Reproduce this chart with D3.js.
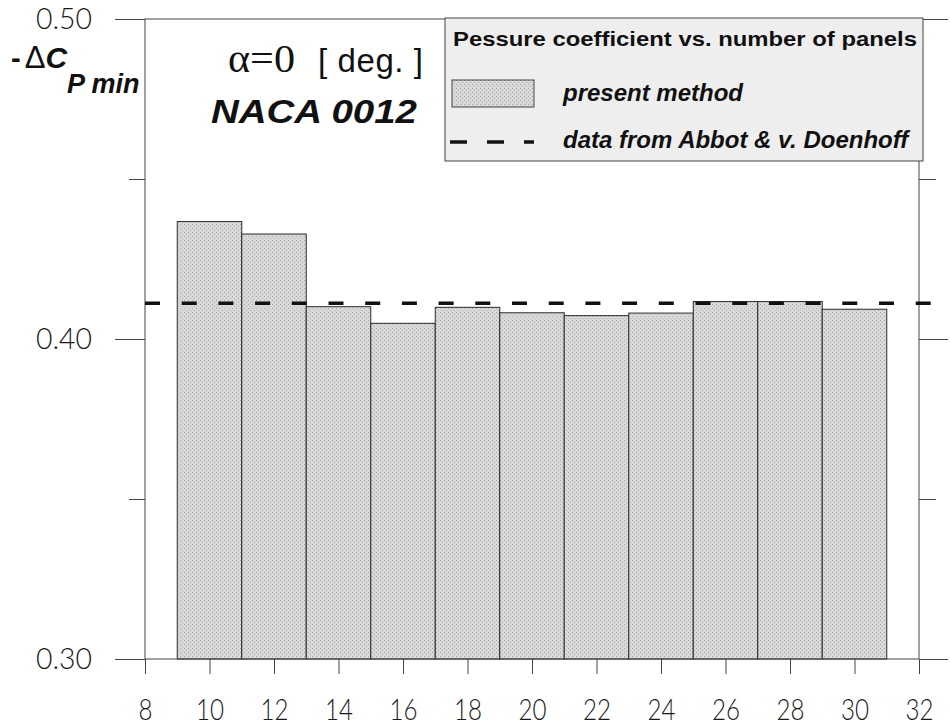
<!DOCTYPE html>
<html>
<head>
<meta charset="utf-8">
<script src="https://cdn.jsdelivr.net/npm/d3@7"></script>
<style>
  body { margin: 0; background: #fff; }
  svg { display: block; }
  .tick text { font-family: Lato, "DejaVu Sans", sans-serif; font-weight: 300; font-size: 29px; fill: #1a1a1a; }
  .tick line { stroke: #444; }
</style>
</head>
<body>
<div id="chart"></div>
<script>
// panels (bar centres) and -dCp min from the panel method
const panels = [10, 12, 14, 16, 18, 20, 22, 24, 26, 28, 30];
const cpMin = [0.4367, 0.4328, 0.4101, 0.4049, 0.4099, 0.4082, 0.4073, 0.4081, 0.4117, 0.4117, 0.4093];
// reference value (Abbot & v. Doenhoff)
const refValue = 0.4112;
const refRange = [8, 32.45];

const xTicks = [8, 10, 12, 14, 16, 18, 20, 22, 24, 26, 28, 30, 32];
const yMajor = [0.30, 0.40, 0.50];
const yMinor = [0.35, 0.45];

const width = 950, height = 726;
const plotL = 145, plotR = 919, plotT = 19, plotB = 659;

const svg = d3.select("#chart").append("svg")
    .attr("width", width)
    .attr("height", height);

// stippled grey like the printed original
const defs = svg.append("defs");
const pat = defs.append("pattern")
    .attr("id", "stipple")
    .attr("width", 4).attr("height", 4)
    .attr("patternUnits", "userSpaceOnUse");
pat.append("rect").attr("width", 4).attr("height", 4).attr("fill", "#d8d8d8");
pat.append("rect").attr("x", 0).attr("y", 0).attr("width", 1).attr("height", 1).attr("fill", "#a9a9a9");
pat.append("rect").attr("x", 2).attr("y", 2).attr("width", 1).attr("height", 1).attr("fill", "#b4b4b4");

const x = d3.scaleLinear().domain([8, 32]).range([plotL, plotR]);
const y = d3.scaleLinear().domain([0.30, 0.50]).range([plotB, plotT]);

// bars, each 2 panels wide
svg.append("g")
    .selectAll("rect")
    .data(panels)
    .enter()
    .append("rect")
    .attr("x", d => x(d - 1))
    .attr("width", d => x(d + 1) - x(d - 1))
    .attr("y", (d, i) => y(cpMin[i]))
    .attr("height", (d, i) => y(0.30) - y(cpMin[i]))
    .attr("fill", "url(#stipple)")
    .attr("stroke", "#2a2a2a")
    .attr("stroke-width", 1);

// frame
svg.append("rect")
    .attr("x", plotL).attr("y", plotT)
    .attr("width", plotR - plotL).attr("height", plotB - plotT)
    .attr("fill", "none")
    .attr("stroke", "#444")
    .attr("stroke-width", 1);

// axes
const axisL = svg.append("g").attr("transform", `translate(${plotL},0)`)
    .call(d3.axisLeft(y).tickValues(yMajor).tickSize(30).tickPadding(23).tickFormat(d3.format(".2f")));
svg.append("g").attr("transform", `translate(${plotL},0)`)
    .call(d3.axisLeft(y).tickValues(yMinor).tickSize(16).tickFormat(""));
svg.append("g").attr("transform", `translate(${plotR},0)`)
    .call(d3.axisRight(y).tickValues(yMajor).tickSize(29).tickFormat(""));
svg.append("g").attr("transform", `translate(${plotR},0)`)
    .call(d3.axisRight(y).tickValues(yMinor).tickSize(17).tickFormat(""));
const axisB = svg.append("g").attr("transform", `translate(0,${plotB})`)
    .call(d3.axisBottom(x).tickValues(xTicks).tickSize(15).tickPadding(25).tickFormat(d3.format("d")));

svg.selectAll(".domain").remove();
// narrow, wide-spaced digits of the original
axisL.selectAll("text")
    .attr("textLength", 56)
    .attr("lengthAdjust", "spacingAndGlyphs");
axisB.selectAll("text")
    .attr("textLength", d => String(d).length * 14)
    .attr("lengthAdjust", "spacingAndGlyphs");

// reference dashed line
svg.append("line")
    .attr("x1", x(refRange[0])).attr("x2", x(refRange[1]))
    .attr("y1", y(refValue)).attr("y2", y(refValue))
    .attr("stroke", "#111")
    .attr("stroke-width", 3.5)
    .attr("stroke-dasharray", "15,21.7");

// y label
const yl = svg.append("text")
    .attr("x", 11).attr("y", 68)
    .attr("font-family", "Liberation Sans, Arial, sans-serif")
    .attr("fill", "#111");
yl.append("tspan").attr("font-size", 29).attr("font-weight", "bold").text("-");
yl.append("tspan").attr("font-size", 31).attr("dx", 4).text("\u0394");
yl.append("tspan").attr("font-size", 30).attr("font-weight", "bold").attr("font-style", "italic").text("C");
yl.append("tspan").attr("font-size", 27).attr("font-weight", "bold").attr("font-style", "italic")
    .attr("dy", 25).text("P min");

// angle and profile labels
svg.append("text")
    .attr("x", 228).attr("y", 72)
    .attr("font-family", "Liberation Serif, Times New Roman, serif")
    .attr("font-size", 40)
    .attr("fill", "#111")
    .attr("textLength", 67)
    .attr("lengthAdjust", "spacingAndGlyphs")
    .text("\u03B1=0");
svg.append("text")
    .attr("x", 318).attr("y", 72)
    .attr("font-family", "Liberation Sans, Arial, sans-serif")
    .attr("font-size", 33)
    .attr("fill", "#111")
    .attr("textLength", 105)
    .text("[ deg. ]");
svg.append("text")
    .attr("x", 211).attr("y", 123)
    .attr("font-family", "Liberation Sans, Arial, sans-serif")
    .attr("font-size", 33)
    .attr("font-weight", "bold")
    .attr("font-style", "italic")
    .attr("fill", "#111")
    .attr("textLength", 206)
    .attr("lengthAdjust", "spacingAndGlyphs")
    .text("NACA 0012");

// legend
const lg = svg.append("g");
lg.append("rect")
    .attr("x", 445).attr("y", 18)
    .attr("width", 478).attr("height", 143)
    .attr("fill", "#eeeeee")
    .attr("stroke", "#444");
lg.append("text")
    .attr("x", 453).attr("y", 46)
    .attr("font-family", "Liberation Sans, Arial, sans-serif")
    .attr("font-size", 21)
    .attr("font-weight", "bold")
    .attr("fill", "#111")
    .attr("textLength", 464)
    .attr("lengthAdjust", "spacingAndGlyphs")
    .text("Pessure coefficient vs. number of panels");
lg.append("rect")
    .attr("x", 452).attr("y", 80)
    .attr("width", 82).attr("height", 27)
    .attr("fill", "url(#stipple)")
    .attr("stroke", "#444");
lg.append("text")
    .attr("x", 563).attr("y", 101)
    .attr("font-family", "Liberation Sans, Arial, sans-serif")
    .attr("font-size", 24)
    .attr("font-weight", "bold")
    .attr("font-style", "italic")
    .attr("fill", "#111")
    .text("present method");
lg.append("line")
    .attr("x1", 450).attr("x2", 534)
    .attr("y1", 142).attr("y2", 142)
    .attr("stroke", "#111")
    .attr("stroke-width", 3.5)
    .attr("stroke-dasharray", "17,20");
lg.append("text")
    .attr("x", 563).attr("y", 148)
    .attr("font-family", "Liberation Sans, Arial, sans-serif")
    .attr("font-size", 24)
    .attr("font-weight", "bold")
    .attr("font-style", "italic")
    .attr("fill", "#111")
    .text("data from Abbot & v. Doenhoff");
</script>
</body>
</html>
